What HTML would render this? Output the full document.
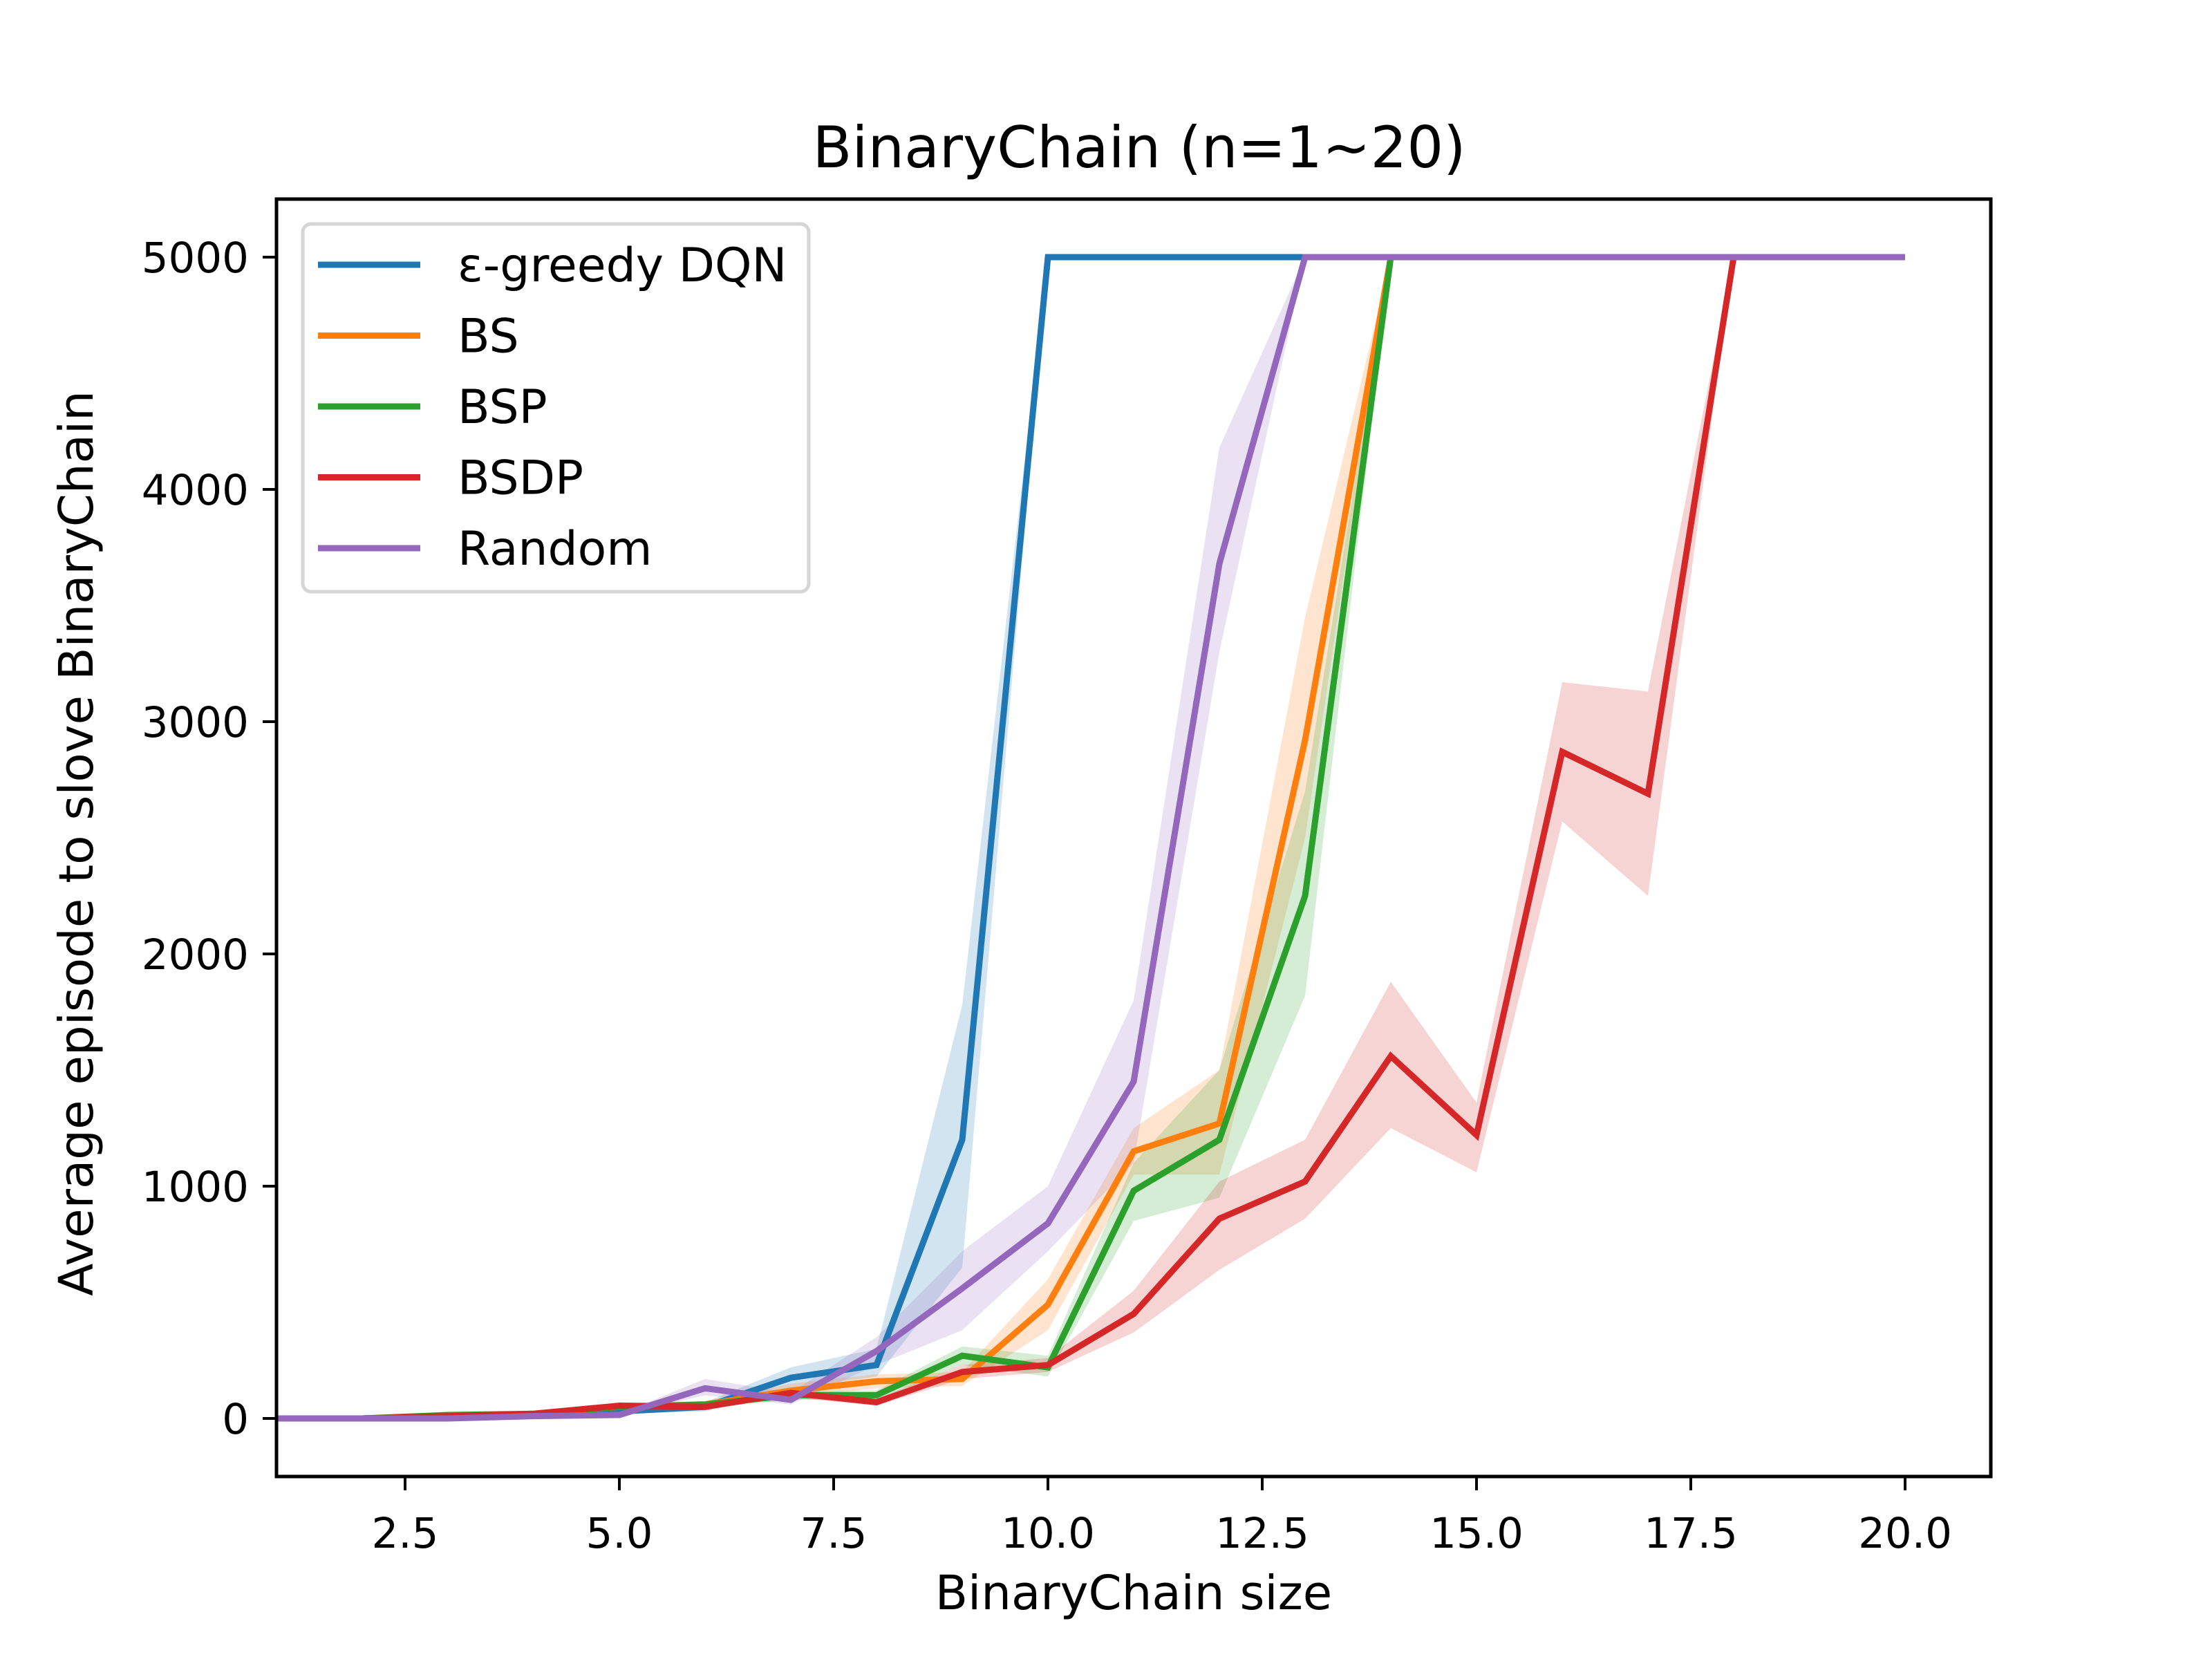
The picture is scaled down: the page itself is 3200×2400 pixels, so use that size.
<!DOCTYPE html>
<html><head><meta charset="utf-8"><style>
html,body{margin:0;padding:0;background:#fff;}
svg{display:block;font-family:"DejaVu Sans","Liberation Sans",sans-serif;}
</style></head><body>
<svg id="chart" width="3200" height="2400" viewBox="0 0 3200 2400" xmlns="http://www.w3.org/2000/svg">
<rect width="3200" height="2400" fill="#fff"/>
<text x="1648" y="242" font-size="83" text-anchor="middle">BinaryChain (n=1~20)</text>
<g id="bands"></g>
<g id="lines"></g>
<rect x="400" y="288" width="2480" height="1848" fill="none" stroke="#000" stroke-width="5"/>
<g id="xticks"></g>
<g id="yticks"></g>
<text x="1640" y="2328" font-size="69" text-anchor="middle">BinaryChain size</text>
<text x="134" y="1220" font-size="69" text-anchor="middle" transform="rotate(-90 134 1220)">Average episode to slove BinaryChain</text>
<g>
<rect x="438" y="324" width="732" height="532" rx="12" fill="#fff" fill-opacity="0.8" stroke="#d6d6d6" stroke-width="5"/>
<g id="legend-items"></g>
</g>
</svg>
<script>
const sizes = [1,2,3,4,5,6,7,8,9,10,11,12,13,14,15,16,17,18,19,20];
const seriesNames = ["ε-greedy DQN","BS","BSP","BSDP","Random"];
const seriesColors = ["#1f77b4","#ff7f0e","#2ca02c","#d62728","#9467bd"];
const dqnMean = [0,0,10,15,30,50,175,230,1200,5000,5000,5000,5000,5000,5000,5000,5000,5000,5000,5000];
const dqnLow  = [0,0,5,10,20,30,130,180,650,5000,5000,5000,5000,5000,5000,5000,5000,5000,5000,5000];
const dqnHigh = [0,0,15,20,40,70,220,300,1780,5000,5000,5000,5000,5000,5000,5000,5000,5000,5000,5000];
const bsMean = [0,0,10,20,50,60,120,160,170,490,1150,1270,2920,5000,5000,5000,5000,5000,5000,5000];
const bsLow  = [0,0,5,10,35,45,90,130,140,380,1050,1050,2500,5000,5000,5000,5000,5000,5000,5000];
const bsHigh = [0,0,15,30,65,75,150,190,200,600,1250,1500,3450,5000,5000,5000,5000,5000,5000,5000];
const bspMean = [0,0,15,20,50,60,100,100,270,220,980,1200,2250,5000,5000,5000,5000,5000,5000,5000];
const bspLow  = [0,0,10,15,40,45,80,80,230,180,850,950,1820,5000,5000,5000,5000,5000,5000,5000];
const bspHigh = [0,0,20,25,60,75,120,120,310,270,1100,1500,2700,5000,5000,5000,5000,5000,5000,5000];
const bsdpMean = [0,0,10,20,55,50,110,70,200,230,450,860,1020,1560,1220,2870,2690,5000,5000,5000];
const bsdpLow  = [0,0,5,15,45,40,90,55,170,200,370,640,860,1250,1060,2570,2250,5000,5000,5000];
const bsdpHigh = [0,0,15,25,65,60,130,85,230,260,550,1020,1200,1880,1360,3170,3130,5000,5000,5000];
const rndMean = [0,0,0,10,15,130,80,290,560,840,1450,3680,5000,5000,5000,5000,5000,5000,5000,5000];
const rndLow  = [0,0,0,5,10,100,60,230,380,720,1100,3300,5000,5000,5000,5000,5000,5000,5000,5000];
const rndHigh = [0,0,0,15,20,170,110,350,720,1000,1800,4180,5000,5000,5000,5000,5000,5000,5000,5000];
const xTickValues = [2.5,5.0,7.5,10.0,12.5,15.0,17.5,20.0];
const xTickLabels = ["2.5","5.0","7.5","10.0","12.5","15.0","17.5","20.0"];
const yTickValues = [0,1000,2000,3000,4000,5000];
const yTickLabels = ["0","1000","2000","3000","4000","5000"];

const NS="http://www.w3.org/2000/svg";
const X0=400,X1=2880,Y0=288,Y1=2136, XMIN=1,XMAX=21,YMIN=-250,YMAX=5250;
function xs(v){return X0+(v-XMIN)/(XMAX-XMIN)*(X1-X0);}
function ys(v){return Y1-(v-YMIN)/(YMAX-YMIN)*(Y1-Y0);}
function mk(tag,attrs,parent){const e=document.createElementNS(NS,tag);for(const k in attrs)e.setAttribute(k,attrs[k]);parent.appendChild(e);return e;}

const means=[dqnMean,bsMean,bspMean,bsdpMean,rndMean];
const lows=[dqnLow,bsLow,bspLow,bsdpLow,rndLow];
const highs=[dqnHigh,bsHigh,bspHigh,bsdpHigh,rndHigh];
const keys=["dqn","bs","bsp","bsdp","random"];
const bands=document.getElementById('bands'), lines=document.getElementById('lines');
for(let s=0;s<5;s++){
  let d="";
  sizes.forEach((x,i)=>{d+=(i?"L":"M")+xs(x)+","+ys(highs[s][i]);});
  for(let i=sizes.length-1;i>=0;i--)d+="L"+xs(sizes[i])+","+ys(lows[s][i]);
  const b=mk('path',{d:d+"Z",fill:seriesColors[s],'fill-opacity':0.2},bands);
  
  
}
for(let s=0;s<5;s++){
  const pts=sizes.map((x,i)=>xs(x)+","+ys(means[s][i])).join(" ");
  const l=mk('polyline',{points:pts,fill:'none',stroke:seriesColors[s],'stroke-width':9,'stroke-linejoin':'miter'},lines);
  
  
}
const xt=document.getElementById('xticks');
xTickValues.forEach((v,i)=>{
  const t=mk('line',{x1:xs(v),x2:xs(v),y1:Y1,y2:Y1+20,stroke:'#000','stroke-width':4},xt);
  
  
  const tx=mk('text',{x:xs(v),y:Y1+103,'font-size':61,'text-anchor':'middle'},xt);
  tx.textContent=xTickLabels[i];
  
  
});
const yt=document.getElementById('yticks');
yTickValues.forEach((v,i)=>{
  const t=mk('line',{x1:X0-20,x2:X0,y1:ys(v),y2:ys(v),stroke:'#000','stroke-width':4},yt);
  
  
  const tx=mk('text',{x:X0-40,y:ys(v)+22,'font-size':61,'text-anchor':'end'},yt);
  tx.textContent=yTickLabels[i];
  
  
});
const lg=document.getElementById('legend-items');
seriesNames.forEach((n,i)=>{
  const y=383+i*102.5;
  const g=mk('g',{},lg);
  
  
  mk('line',{x1:460,x2:608,y1:y,y2:y,stroke:seriesColors[i],'stroke-width':9},g);
  const t=mk('text',{x:662,y:y+24,'font-size':68},g);
  t.textContent=n;
});
</script>
</body></html>
